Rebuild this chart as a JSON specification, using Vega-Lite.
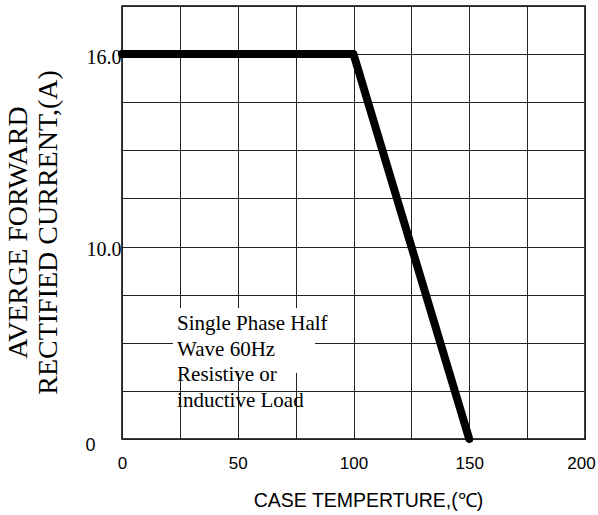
{
  "$schema": "https://vega.github.io/schema/vega-lite/v6.json",
  "width": 463,
  "height": 433,
  "autosize": "none",
  "padding": {"left": 122, "top": 6, "right": 13, "bottom": 76},
  "background": "white",
  "config": {"view": {"stroke": "#000", "strokeWidth": 1.5}},
  "datasets": {
    "curve": [
      {"temp": 0, "current": 16},
      {"temp": 100, "current": 16},
      {"temp": 150, "current": 0}
    ],
    "note": [
      {"x0": 22, "x1": 83.4, "y0": 3.43, "y1": 6.81, "tx": 23.8, "ty": 5.65, "label": "Single Phase Half\nWave 60Hz\nResistive or\ninductive Load"}
    ]
  },
  "layer": [
    {
      "data": {"name": "note"},
      "mark": {"type": "rect", "fill": "white", "stroke": null},
      "encoding": {
        "x": {
          "field": "x0", "type": "quantitative",
          "scale": {"domain": [0, 200], "nice": false, "zero": false},
          "axis": {
            "values": [0, 25, 50, 75, 100, 125, 150, 175, 200],
            "labelExpr": "datum.value % 50 == 0 ? datum.label : ''",
            "labelFont": "Liberation Sans",
            "labelFontSize": 17,
            "labelColor": "#000",
            "labelBaseline": "alphabetic",
            "labelPadding": 29,
            "labelOffset": {"condition": {"test": "datum.value == 200", "value": -4}, "value": 0},
            "labelFlush": false,
            "labelOverlap": false,
            "labelBound": false,
            "ticks": false,
            "tickSize": 0,
            "domain": false,
            "grid": true,
            "gridColor": "#222",
            "gridWidth": 1,
            "gridOpacity": 1,
            "title": "CASE TEMPERTURE,(℃)",
            "titleFont": "Liberation Sans",
            "titleFontSize": 19.5,
            "titleFontWeight": "normal",
            "titleColor": "#000",
            "titleX": 246,
            "titleY": 67,
            "titleAlign": "center",
            "titleBaseline": "alphabetic"
          }
        },
        "x2": {"field": "x1"},
        "y": {
          "field": "y0", "type": "quantitative",
          "scale": {"domain": [0, 10, 17.5], "range": [433, 240.6, 0], "nice": false, "zero": false},
          "axis": {
            "values": [0, 2.5, 5, 7.5, 10, 11.5, 13, 14.5, 16, 17.5],
            "labelExpr": "datum.value == 16 ? '16.0' : datum.value == 10 ? '10.0' : datum.value == 0 ? '0' : ''",
            "labelFont": {"condition": {"test": "datum.value == 0", "value": "Liberation Sans"}, "value": "Liberation Serif"},
            "labelFontSize": {"condition": {"test": "datum.value == 0", "value": 18}, "value": 20},
            "labelPadding": {"condition": {"test": "datum.value == 0", "value": 27}, "value": 1},
            "labelOffset": {"condition": {"test": "datum.value == 0", "value": 11}, "value": 9},
            "labelColor": "#000",
            "labelAlign": "right",
            "labelBaseline": "alphabetic",
            "labelOverlap": false,
            "labelBound": false,
            "ticks": false,
            "tickSize": 0,
            "domain": false,
            "grid": true,
            "gridColor": "#222",
            "gridWidth": 1,
            "gridOpacity": 1,
            "title": ["AVERGE FORWARD", "RECTIFIED CURRENT,(A)"],
            "titleFont": "Liberation Serif",
            "titleFontSize": 28,
            "titleFontWeight": "normal",
            "titleColor": "#000",
            "titleAngle": 270,
            "titleX": -104,
            "titleY": 226,
            "titleAlign": "center",
            "titleBaseline": "middle",
            "titleLineHeight": 30
          }
        },
        "y2": {"field": "y1"}
      }
    },
    {
      "data": {"name": "note"},
      "mark": {"type": "text", "align": "left", "baseline": "alphabetic", "font": "Liberation Serif", "fontSize": 21, "lineHeight": 25.5, "lineBreak": "\n", "color": "#000"},
      "encoding": {
        "x": {"field": "tx", "type": "quantitative"},
        "y": {"field": "ty", "type": "quantitative"},
        "text": {"field": "label"}
      }
    },
    {
      "data": {"name": "curve"},
      "mark": {"type": "line", "color": "#000", "strokeWidth": 8, "strokeCap": "round", "strokeJoin": "round"},
      "encoding": {
        "x": {"field": "temp", "type": "quantitative"},
        "y": {"field": "current", "type": "quantitative"}
      }
    }
  ]
}
